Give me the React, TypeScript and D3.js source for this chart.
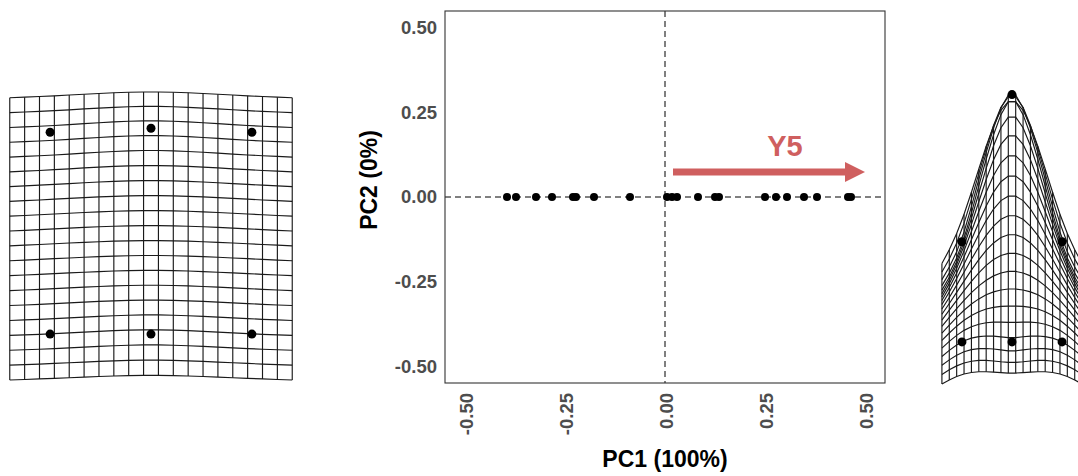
import React, { useMemo } from "react";
import * as d3 from "d3";

// PCA scores of the specimens (PC1 carries all of the variance)
const pc1Scores = [
  -0.395, -0.3725, -0.3225, -0.2825, -0.23, -0.2225, -0.1775, -0.0875,
  0.005, 0.0175, 0.03, 0.0825, 0.125, 0.135, 0.25, 0.2775, 0.305, 0.3475,
  0.38, 0.4575, 0.465,
];
const pc2Scores = [
  0, 0, 0, 0, 0, 0, 0, 0, 0, 0, 0, 0, 0, 0, 0, 0, 0, 0, 0, 0, 0,
];

const tickValues = [-0.5, -0.25, 0, 0.25, 0.5];
const tickLabels = ["-0.50", "-0.25", "0.00", "0.25", "0.50"];
const xTitle = "PC1 (100%)";
const yTitle = "PC2 (0%)";

// Loading direction annotation (in PC space)
const arrowFrom = [0.02, 0.074];
const arrowTo = [0.5, 0.074];
const arrowLabel = "Y5";
const arrowLabelAt = [0.3, 0.12];

// Landmark configurations (6 landmarks, x/y)
const consensusX = [-1, 0, 1, -1, 0, 1];
const consensusY = [2, 1.99, 2, 0, -0.04, 0];
const minShapeX = [-1, 0, 1, -1, 0, 1];
const minShapeY = [2, 2.04, 2, 0, 0, 0];
const maxShapeX = [-1, 0, 1, -1, 0, 1];
const maxShapeY = [2, 4.94, 2, 0, 0, 0];

type Pt = [number, number];

const zip = (xs: number[], ys: number[]): Pt[] => xs.map((x, i) => [x, ys[i]]);

function solve(A: number[][], b: number[]): number[] {
  const n = b.length;
  const M = A.map((row, i) => [...row, b[i]]);
  for (let c = 0; c < n; c++) {
    let p = c;
    for (let r = c + 1; r < n; r++) if (Math.abs(M[r][c]) > Math.abs(M[p][c])) p = r;
    [M[c], M[p]] = [M[p], M[c]];
    for (let r = 0; r < n; r++) {
      if (r === c) continue;
      const f = M[r][c] / M[c][c];
      for (let k = c; k <= n; k++) M[r][k] -= f * M[c][k];
    }
  }
  return M.map((row, i) => row[n] / row[i]);
}

const U = (r: number) => (r === 0 ? 0 : r * r * Math.log(r * r));

// thin-plate spline mapping from ref landmarks to tgt landmarks
function tps2d(pts: Pt[], ref: Pt[], tgt: Pt[]): Pt[] {
  const n = ref.length;
  const L: number[][] = [];
  for (let i = 0; i < n + 3; i++) L.push(new Array(n + 3).fill(0));
  for (let i = 0; i < n; i++) {
    for (let j = 0; j < n; j++) {
      L[i][j] = U(Math.hypot(ref[i][0] - ref[j][0], ref[i][1] - ref[j][1]));
    }
    L[i][n] = 1;
    L[i][n + 1] = ref[i][0];
    L[i][n + 2] = ref[i][1];
    L[n][i] = 1;
    L[n + 1][i] = ref[i][0];
    L[n + 2][i] = ref[i][1];
  }
  const wx = solve(L, [...tgt.map((p) => p[0]), 0, 0, 0]);
  const wy = solve(L, [...tgt.map((p) => p[1]), 0, 0, 0]);
  return pts.map(([x, y]) => {
    let fx = wx[n] + wx[n + 1] * x + wx[n + 2] * y;
    let fy = wy[n] + wy[n + 1] * x + wy[n + 2] * y;
    for (let i = 0; i < n; i++) {
      const u = U(Math.hypot(x - ref[i][0], y - ref[i][1]));
      fx += wx[i] * u;
      fy += wy[i] * u;
    }
    return [fx, fy] as Pt;
  });
}

// deformation grid laid over the reference, warped to the target
function warpGrid(ref: Pt[], tgt: Pt[], nCol = 20) {
  const xs = ref.map((p) => p[0]);
  const ys = ref.map((p) => p[1]);
  const xm = d3.min(xs)!, xM = d3.max(xs)!;
  const ym = d3.min(ys)!, yM = d3.max(ys)!;
  const rX = xM - xm;
  const a = d3.range(nCol).map((i) => xm - rX / 5 + (i * (rX * 1.4)) / (nCol - 1));
  const step = (rX * 7) / (5 * (nCol - 1));
  const m = Math.round(0.5 + ((nCol - 1) * ((2 / 5) * rX + yM - ym)) / ((2 / 5) * rX + xM - xm));
  const b = d3.range(m).map((j) => ym - rX / 5 + j * step);
  const base: Pt[] = [];
  b.forEach((y) => a.forEach((x) => base.push([x, y])));
  const g = tps2d(base, ref, tgt);
  const rows: Pt[][] = d3.range(m).map((j) => g.slice(j * nCol, (j + 1) * nCol));
  const cols: Pt[][] = d3.range(nCol).map((i) => d3.range(m).map((j) => g[j * nCol + i]));
  return { rows, cols, all: g };
}

function DeformationGrid({
  target,
  cx,
  top,
  height,
  dotR,
}: {
  target: Pt[];
  cx: number;
  top: number;
  height: number;
  dotR: number;
}) {
  const ref = zip(consensusX, consensusY);
  const { rows, cols, all } = useMemo(() => warpGrid(ref, target), []);
  const [x0, x1] = d3.extent(all, (p) => p[0]) as [number, number];
  const [y0, y1] = d3.extent(all, (p) => p[1]) as [number, number];
  const k = height / (y1 - y0);
  const xmid = (x0 + x1) / 2;
  const sx = d3.scaleLinear().domain([xmid, xmid + 1]).range([cx, cx + k]);
  const sy = d3.scaleLinear().domain([y1, y1 - 1]).range([top, top + k]);
  const line = d3
    .line<Pt>()
    .x((p) => sx(p[0]))
    .y((p) => sy(p[1]));
  return (
    <g>
      {[...rows, ...cols].map((l, i) => (
        <path key={i} d={line(l)!} fill="none" stroke="#1a1a1a" strokeWidth={1.15} />
      ))}
      {target.map((p, i) => (
        <circle key={i} cx={sx(p[0])} cy={sy(p[1])} r={dotR} fill="#000" />
      ))}
    </g>
  );
}

export default function App() {
  const W = 1078;
  const H = 476;
  const panel = { left: 445, right: 885, top: 11, bottom: 383 };
  const x = d3.scaleLinear().domain([-0.55, 0.55]).range([panel.left, panel.right]);
  const y = d3.scaleLinear().domain([-0.55, 0.55]).range([panel.bottom, panel.top]);
  const font = "'Liberation Sans', Arial, Helvetica, sans-serif";
  const arrowColor = "#cf5f5f";
  const ay = y(arrowFrom[1]);
  const tipX = x(arrowTo[0]);
  const headLen = 20;
  const headHalf = 10;

  return (
    <svg
      width={W}
      height={H}
      style={{ position: "absolute", left: 0, top: 0, background: "#fff" }}
      fontFamily={font}
    >
      <rect width={W} height={H} fill="#fff" />

      {/* shape at the negative end of PC1 */}
      <DeformationGrid target={zip(minShapeX, minShapeY)} cx={151} top={92} height={288} dotR={4.5} />

      {/* shape at the positive end of PC1 */}
      <DeformationGrid target={zip(maxShapeX, maxShapeY)} cx={1012} top={95} height={289} dotR={4.5} />

      {/* PCA scatter */}
      <g>
        <line
          x1={panel.left}
          x2={panel.right}
          y1={y(0)}
          y2={y(0)}
          stroke="#000"
          strokeWidth={1}
          strokeDasharray="6,4"
        />
        <line
          x1={x(0)}
          x2={x(0)}
          y1={panel.top}
          y2={panel.bottom}
          stroke="#000"
          strokeWidth={1}
          strokeDasharray="6,4"
        />
        {pc1Scores.map((v, i) => (
          <circle key={i} cx={x(v)} cy={y(pc2Scores[i])} r={4} fill="#000" />
        ))}

        <line
          x1={x(arrowFrom[0])}
          x2={tipX - headLen + 1}
          y1={ay}
          y2={ay}
          stroke={arrowColor}
          strokeWidth={7}
        />
        <polygon
          points={`${tipX},${ay} ${tipX - headLen},${ay - headHalf} ${tipX - headLen},${ay + headHalf}`}
          fill={arrowColor}
        />
        <text
          x={x(arrowLabelAt[0])}
          y={y(arrowLabelAt[1])}
          textAnchor="middle"
          fontSize={29}
          fontWeight="bold"
          fill={arrowColor}
        >
          {arrowLabel}
        </text>

        <rect
          x={panel.left}
          y={panel.top}
          width={panel.right - panel.left}
          height={panel.bottom - panel.top}
          fill="none"
          stroke="#333"
          strokeWidth={1.1}
        />

        {tickValues.map((v, i) => (
          <text
            key={"y" + i}
            x={panel.left - 8}
            y={y(v)}
            dy="0.35em"
            textAnchor="end"
            fontSize={18.5}
            fontWeight="bold"
            fill="#4d4d4d"
          >
            {tickLabels[i]}
          </text>
        ))}
        {tickValues.map((v, i) => (
          <text
            key={"x" + i}
            transform={`translate(${x(v) + 8},${panel.bottom + 10}) rotate(-90)`}
            textAnchor="end"
            fontSize={18.5}
            fontWeight="bold"
            fill="#4d4d4d"
          >
            {tickLabels[i]}
          </text>
        ))}

        <text x={x(0)} y={467} textAnchor="middle" fontSize={23} fontWeight="bold" fill="#000">
          {xTitle}
        </text>
        <text
          transform={`translate(377,180) rotate(-90)`}
          textAnchor="middle"
          fontSize={23}
          fontWeight="bold"
          fill="#000"
        >
          {yTitle}
        </text>
      </g>
    </svg>
  );
}
